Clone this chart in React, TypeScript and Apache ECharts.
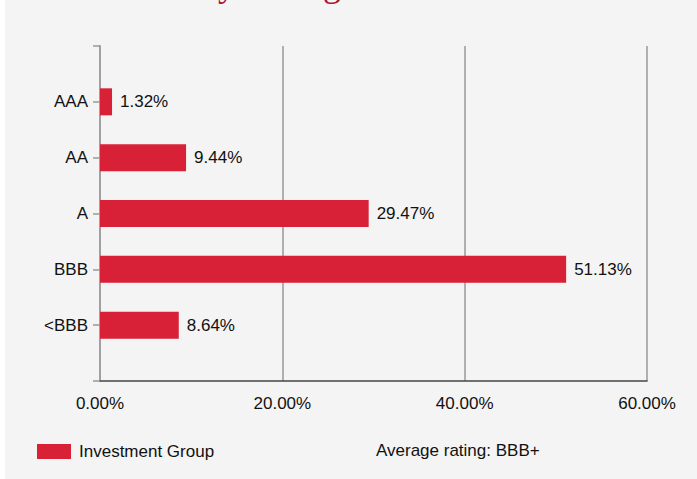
import React, { useEffect, useRef } from "react";
import * as echarts from "echarts";

const categories = ["AAA", "AA", "A", "BBB", "<BBB"];
const values = [1.32, 9.44, 29.47, 51.13, 8.64];
const xTicks = [0, 20, 40, 60];
const seriesName = "Investment Group";
const noteText = "Average rating: BBB+";
const titleText = "Portfolio by Rating";

export default function App() {
  const ref = useRef<HTMLDivElement>(null);
  useEffect(() => {
    document.body.style.margin = "0";
    if (!ref.current) return;
    const chart = echarts.init(ref.current, null, { renderer: "svg" });
    const font = "Liberation Sans, Arial, sans-serif";
    const cats = ["", ...categories, ""];
    const data = ["-", ...values, "-"];
    chart.setOption({
      animation: false,
      backgroundColor: "#ffffff",
      textStyle: { fontFamily: font },
      graphic: [
        {
          type: "rect",
          z: -10,
          shape: { x: 5, y: 0, width: 692, height: 479 },
          style: { fill: "#f4f4f4" },
        },
        {
          type: "text",
          x: 63,
          y: -16,
          style: {
            text: titleText,
            fill: "#a8173a",
            fontFamily: "Liberation Serif, Times New Roman, serif",
            fontSize: 36,
            verticalAlign: "middle",
          },
        },
        {
          type: "text",
          x: 376,
          y: 450,
          style: {
            text: noteText,
            fill: "#111",
            fontFamily: font,
            fontSize: 17,
            verticalAlign: "middle",
          },
        },
      ],
      legend: {
        left: 37,
        top: 443,
        padding: 0,
        itemWidth: 34,
        itemHeight: 15,
        icon: "rect",
        textStyle: { fontSize: 17, color: "#111", fontFamily: font, padding: [0, 0, 0, 3] },
        data: [seriesName],
      },
      grid: { left: 100, right: 50, top: 46, bottom: 98, containLabel: false },
      xAxis: {
        type: "value",
        min: xTicks[0],
        max: xTicks[xTicks.length - 1],
        interval: 20,
        axisLine: { show: true, lineStyle: { color: "#444", width: 1.5 } },
        axisTick: { show: false },
        splitLine: { show: true, lineStyle: { color: "#999", width: 1.5 } },
        axisLabel: {
          margin: 14,
          fontSize: 17,
          color: "#111",
          fontFamily: font,
          formatter: (v: number) => v.toFixed(2) + "%",
        },
      },
      yAxis: {
        type: "category",
        inverse: true,
        boundaryGap: false,
        data: cats,
        axisLine: { show: true, lineStyle: { color: "#a0a0a0", width: 2 } },
        axisTick: { show: true, length: 7, lineStyle: { color: "#999", width: 1.5 } },
        axisLabel: { margin: 12, fontSize: 17, color: "#111", fontFamily: font },
        splitLine: { show: false },
      },
      series: [
        {
          name: seriesName,
          type: "bar",
          data,
          barWidth: 27,
          itemStyle: { color: "#d82037" },
          label: {
            show: true,
            position: "right",
            distance: 8,
            fontSize: 17,
            color: "#111",
            fontFamily: font,
            formatter: (p: any) => (typeof p.value === "number" ? p.value.toFixed(2) + "%" : ""),
          },
        },
      ],
    });
    return () => chart.dispose();
  }, []);
  return <div ref={ref} style={{ width: 697, height: 479 }} />;
}
